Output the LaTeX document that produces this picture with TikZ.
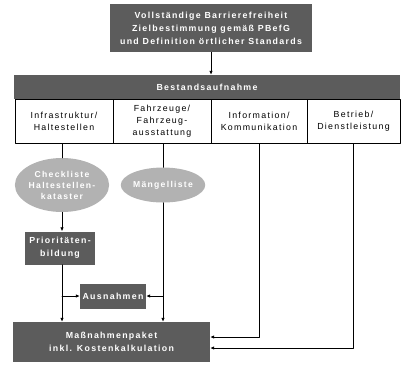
\documentclass[tikz,border=0pt]{standalone}
\usepackage{fontspec}
\setmainfont{Liberation Sans}[LetterSpace=15]
\usetikzlibrary{arrows.meta,shapes.geometric}

\tikzset{
  darkbox/.style={fill=black!64, text=white, align=center, inner sep=0pt,
    font=\fontsize{8.8}{13}\selectfont\bfseries},
  areabox/.style={draw=black, line width=1pt, fill=white, align=center, inner sep=0pt,
    font=\fontsize{8.8}{12}\selectfont},
  spot/.style={ellipse, fill=black!30, text=white, align=center, inner sep=0pt,
    font=\fontsize{8.6}{11}\selectfont\bfseries},
  link/.style={line width=0.8pt},
  flow/.style={link, -{Latex[length=4pt,width=3.5pt]}},
}

\begin{document}
\begin{tikzpicture}[x=1pt, y=-1pt, line cap=round, line join=round]
		
		\useasboundingbox (0,0) rectangle (401,365);
		
		% target definition on top
		\node[darkbox, minimum width=202pt, minimum height=48pt] (goal) at (211,28)
		{Vollständige Barrierefreiheit\\Zielbestimmung gemäß PBefG\\und Definition örtlicher Standards};
		
		% survey bar with its four fields
		\node[darkbox, minimum width=386pt, minimum height=24pt] (survey) at (207,87) {Bestandsaufnahme};
		\node[areabox, minimum width=98pt, minimum height=44pt] (infra) at (64,121) {Infrastruktur/\\Haltestellen};
		\node[areabox, minimum width=98pt, minimum height=44pt] (fleet) at (162,121) {Fahrzeuge/\\Fahrzeug-\\ausstattung};
		\node[areabox, minimum width=96pt, minimum height=44pt] (info) at (259,121) {Information/\\Kommunikation};
		\node[areabox, minimum width=93pt, minimum height=44pt] (service) at (353.5,121) {Betrieb/\\Dienstleistung};
		
		% results of the survey
		\node[spot, minimum width=93pt, minimum height=54pt] (check) at (62,185) {Checkliste\\Haltestellen-\\kataster};
		\node[spot, minimum width=78pt, minimum height=35pt] (defects) at (163,185) {Mängelliste};
		
		% priorities, exceptions and final package
		\node[darkbox, minimum width=70pt, minimum height=33pt] (prio) at (60,248) {Prioritäten-\\bildung};
		\node[darkbox, minimum width=66pt, minimum height=25pt] (except) at (113,296) {Ausnahmen};
		\node[darkbox, minimum width=197pt, minimum height=40pt] (package) at (111.5,342)
		{Maßnahmenpaket\\inkl. Kostenkalkulation};
		
		% junctions on the two left lines
		\coordinate (jprio) at (62,296);
		\coordinate (jfleet) at (163,296);
		
		% connectors
		\draw[flow] (goal.south) -- (goal.south |- survey.north);
		\draw[link] (infra.south -| check.north) -- (check.north);
		\draw[flow] (check.south) -- (prio.north -| check.south);
		\draw[link] (fleet.south -| defects.north) -- (defects.north);
		\draw[flow] (prio.south -| jprio) -- (package.north -| jprio);
		\draw[flow] (defects.south) -- (package.north -| jfleet);
		\draw[flow] (jprio) -- (except.west);
		\draw[flow] (jfleet) -- (except.east);
		\draw[flow] (info.south) |- ([yshift=5pt]package.east);
		\draw[flow] (service.south) |- ([yshift=-6pt]package.east);
		
	\end{tikzpicture}
\end{document}
